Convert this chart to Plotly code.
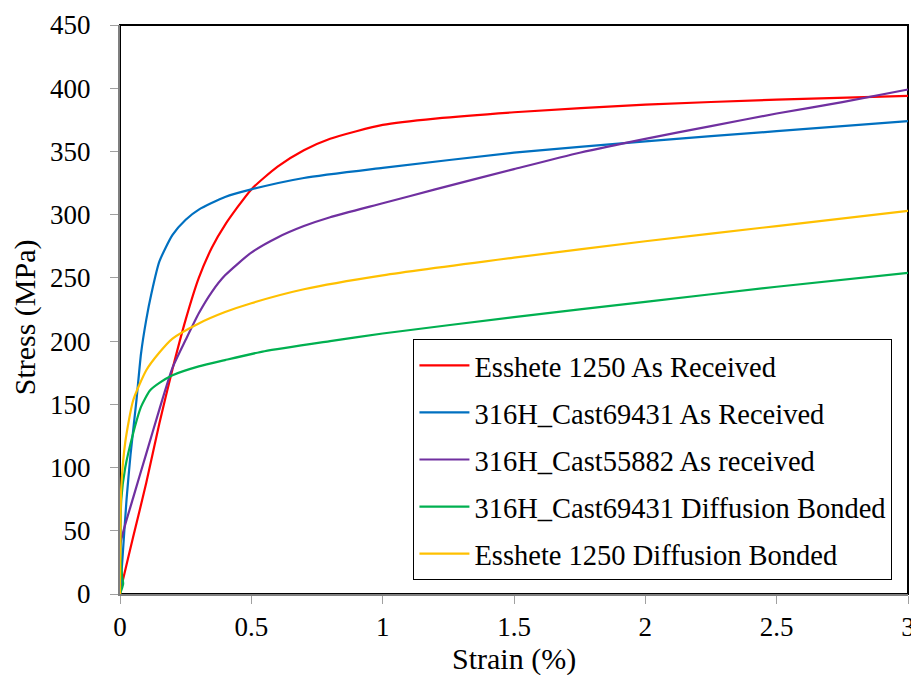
import plotly.graph_objects as go

names = ["Esshete 1250 As Received", "316H_Cast69431 As Received", "316H_Cast55882 As received",
         "316H_Cast69431 Diffusion Bonded", "Esshete 1250 Diffusion Bonded"]
colors = ["#FF0000", "#0070C0", "#7030A0", "#00B050", "#FFC000"]

red_x = [0, 0.01, 0.05, 0.1, 0.15, 0.2, 0.25, 0.3, 0.35, 0.4, 0.5, 0.6, 0.7, 0.8, 0.9, 1.0, 1.2, 1.5, 2.0, 2.5, 3.0]
red_y = [0, 10, 45, 88, 135, 178, 217, 250, 274, 292, 320, 338, 351, 360, 366, 371, 376, 381, 387, 391, 394]

blue_x = [0, 0.01, 0.025, 0.04, 0.063, 0.08, 0.1, 0.12, 0.15, 0.2, 0.25, 0.3, 0.4, 0.5, 0.7, 1.0, 1.5, 2.0, 2.5, 3.0]
blue_y = [0, 30, 75, 110, 154, 190, 217, 238, 263, 284, 296, 304, 314, 320, 329, 337, 349, 358, 366, 374]

purple_x = [0, 0.002, 0.05, 0.1, 0.15, 0.2, 0.25, 0.3, 0.35, 0.4, 0.5, 0.6, 0.7, 0.8, 1.0, 1.2, 1.5, 1.75, 2.0, 2.25, 2.5, 2.75, 3.0]
purple_y = [0, 40, 76, 111, 146, 179, 201, 222, 239, 252, 270, 282, 291, 298, 309, 320, 336, 349, 360, 370, 380, 389, 399]

green_x = [0, 0.012, 0.008, 0.002, 0.005, 0.02, 0.05, 0.08, 0.114, 0.15, 0.2, 0.3, 0.4, 0.55, 0.8, 1.0, 1.5, 2.0, 2.5, 3.0]
green_y = [0, 8, 14, 30, 75, 100, 127, 148, 161, 167, 173, 180, 185, 192, 200, 206, 219, 231, 243, 254]

yellow_x = [0, 0.002, 0.005, 0.02, 0.05, 0.1, 0.15, 0.2, 0.3, 0.4, 0.5, 0.7, 1.0, 1.5, 2.0, 2.5, 3.0]
yellow_y = [0, 60, 85, 120, 153, 177, 191, 202, 214, 223, 230, 241, 252, 266, 279, 291, 303]

xs = [red_x, blue_x, purple_x, green_x, yellow_x]
ys = [red_y, blue_y, purple_y, green_y, yellow_y]

x_ticks = [0, 0.5, 1, 1.5, 2, 2.5, 3]
x_tick_text = ["0", "0.5", "1", "1.5", "2", "2.5", "3"]
y_ticks = list(range(0, 451, 50))
x_title = "Strain (%)"
y_title = "Stress (MPa)"

font_family = "Liberation Serif"

fig = go.Figure()
for i in range(5):
    fig.add_trace(go.Scatter(x=xs[i], y=ys[i], mode="lines", name=names[i],
                             line=dict(color=colors[i], width=2.2, shape="spline", smoothing=0.6),
                             legendgroup=f"g{i}"))

fig.update_layout(
    width=911, height=667,
    margin=dict(l=112, r=11, t=17, b=81, autoexpand=False),
    paper_bgcolor="white", plot_bgcolor="white",
    font=dict(family=font_family, size=27, color="black"),
    showlegend=True,
    legend=dict(x=0.372, y=0.448, xanchor="left", yanchor="top",
                bordercolor="black", borderwidth=1.3, bgcolor="white",
                font=dict(family=font_family, size=28.5, color="black"),
                traceorder="grouped", tracegroupgap=7, itemwidth=50),
    xaxis=dict(range=[0, 3], tickvals=x_ticks, ticktext=x_tick_text, showgrid=False, zeroline=False,
               showline=True, linecolor="#7f7f7f", linewidth=2, ticks="outside", tickcolor="#a0a0a0",
               ticklen=8, ticklabelstandoff=0, automargin=False,
               tickfont=dict(size=27)),
    yaxis=dict(range=[0, 450], tickvals=y_ticks, showgrid=False, zeroline=False,
               showline=True, linecolor="#7f7f7f", linewidth=2, ticks="outside", tickcolor="#a0a0a0",
               ticklen=8, ticklabelstandoff=14, automargin=False,
               tickfont=dict(size=27)),
    shapes=[dict(type="rect", xref="paper", yref="paper", x0=0, x1=1, y0=0, y1=1,
                 line=dict(color="black", width=2), layer="below")],
    annotations=[
        dict(text=x_title, xref="paper", yref="paper", x=0.5, y=-0.114, xanchor="center", yanchor="middle",
             showarrow=False, font=dict(family=font_family, size=30, color="black")),
        dict(text=y_title, xref="paper", yref="paper", x=-0.1195, y=0.486, xanchor="center", yanchor="middle",
             textangle=-90, showarrow=False, font=dict(family=font_family, size=30, color="black")),
    ],
)

fig.write_html("out.html")
